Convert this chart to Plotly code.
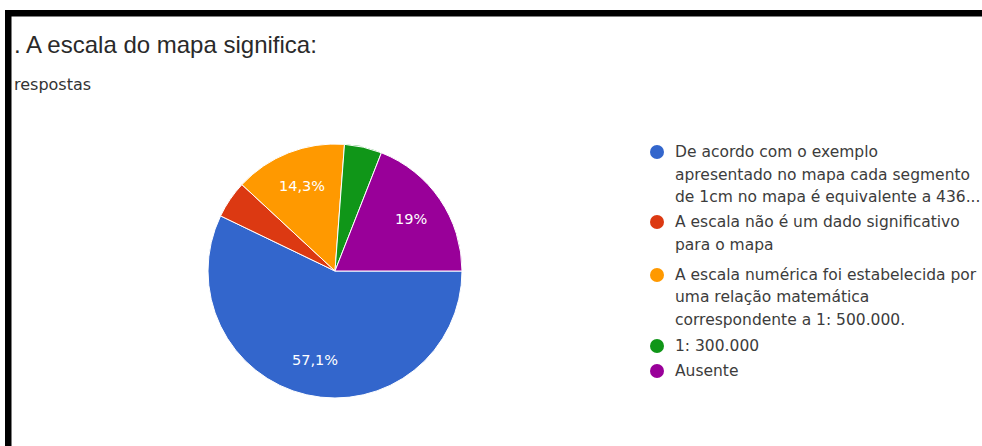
import numpy as np
import plotly.graph_objects as go

# Survey answers for "A escala do mapa significa:"
categories = [
    "De acordo com o exemplo apresentado no mapa cada segmento de 1cm no mapa é equivalente a 436...",
    "A escala não é um dado significativo para o mapa",
    "A escala numérica foi estabelecida por uma relação matemática correspondente a 1: 500.000.",
    "1: 300.000",
    "Ausente",
]
legend_lines = [
    ["De acordo com o exemplo", "apresentado no mapa cada segmento", "de 1cm no mapa é equivalente a 436..."],
    ["A escala não é um dado significativo", "para o mapa"],
    ["A escala numérica foi estabelecida por", "uma relação matemática", "correspondente a 1: 500.000."],
    ["1: 300.000"],
    ["Ausente"],
]
responses = [12, 1, 3, 1, 4]
colors = ["#3366cc", "#dc3912", "#ff9900", "#109618", "#990099"]

title_text = ". A escala do mapa significa:"
subtitle_text = "respostas"

W, H = 982, 446
cx, cy, R = 335, 271, 127  # pie centre / radius in pixels


def px(x):
    return x / W


def py(y):
    return 1 - y / H


fig = go.Figure()
fig.add_trace(go.Pie(
    labels=categories,
    values=responses,
    marker=dict(colors=colors, line=dict(color="white", width=1)),
    sort=False,
    direction="clockwise",
    rotation=90,
    textinfo="none",
    hoverinfo="label+percent",
    domain=dict(x=[px(cx - R), px(cx + R)], y=[py(cy + R), py(cy - R)]),
))

annotations = []
shapes = []

# percentage labels on the larger slices
vals = np.array(responses, dtype=float)
frac = vals / vals.sum()
ends = np.cumsum(frac)
mids = ends - frac / 2
for f, m in zip(frac, mids):
    if f < 0.1:
        continue
    pct = round(f * 100, 1)
    label = (f"{pct:.1f}".rstrip("0").rstrip(".") + "%").replace(".", ",")
    ang = 2 * np.pi * m  # clockwise from 3 o'clock
    lx = cx + 0.72 * R * np.cos(ang)
    ly = cy + 0.72 * R * np.sin(ang)
    annotations.append(dict(
        x=px(lx), y=py(ly), xref="paper", yref="paper",
        text=label, showarrow=False, xanchor="center", yanchor="middle",
        font=dict(family="DejaVu Sans", size=14.5, color="white"),
    ))

# legend
legend_y = [[152, 174.5, 197], [222, 245], [275, 297, 320], [346], [371]]
for lines, ys, col in zip(legend_lines, legend_y, colors):
    shapes.append(dict(
        type="circle", xref="paper", yref="paper",
        x0=px(650), x1=px(664), y0=py(ys[0] + 7), y1=py(ys[0] - 7),
        fillcolor=col, line=dict(width=0),
    ))
    for t, yy in zip(lines, ys):
        annotations.append(dict(
            x=px(673), y=py(yy), xref="paper", yref="paper",
            text=t, showarrow=False, xanchor="left", yanchor="middle",
            font=dict(family="DejaVu Sans", size=15.5, color="#3c3c3c"),
        ))

# heading
annotations.append(dict(
    x=px(12), y=py(45), xref="paper", yref="paper",
    text=title_text, showarrow=False, xanchor="left", yanchor="middle",
    font=dict(family="Liberation Sans", size=24, color="#2a2a2a"),
))
annotations.append(dict(
    x=px(12), y=py(84), xref="paper", yref="paper",
    text=subtitle_text, showarrow=False, xanchor="left", yanchor="middle",
    font=dict(family="DejaVu Sans", size=16, color="#333333"),
))

# black frame along top and left
shapes.append(dict(type="rect", xref="paper", yref="paper",
                   x0=px(5), x1=1, y0=py(16.5), y1=py(10),
                   fillcolor="black", line=dict(width=0), layer="above"))
shapes.append(dict(type="rect", xref="paper", yref="paper",
                   x0=px(5), x1=px(11.5), y0=0, y1=py(10),
                   fillcolor="black", line=dict(width=0), layer="above"))

fig.update_layout(
    width=W, height=H,
    margin=dict(l=0, r=0, t=0, b=0),
    paper_bgcolor="white",
    plot_bgcolor="white",
    showlegend=False,
    annotations=annotations,
    shapes=shapes,
)

fig.write_html("out.html")
